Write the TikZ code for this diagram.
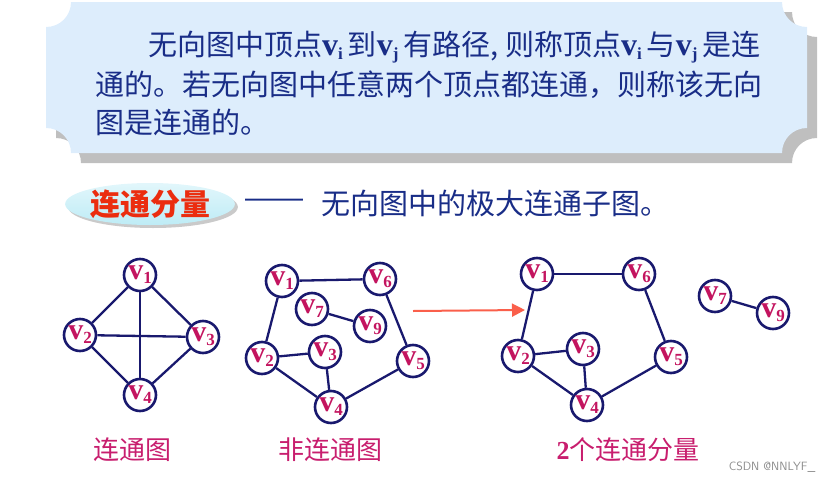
\documentclass[tikz,border=0pt]{standalone}
\usepackage{fontspec}
\newfontfamily\cjk{Noto Sans CJK SC}
\newfontfamily\vfont{Liberation Serif}
\newfontfamily\dashfont{Liberation Sans}
\usetikzlibrary{arrows.meta,shapes.geometric,shadows}

\definecolor{navy}{RGB}{25,25,110}
\definecolor{vred}{RGB}{195,20,95}
\definecolor{capred}{RGB}{200,30,110}
\definecolor{txtblue}{RGB}{25,45,135}
\definecolor{boxblue}{RGB}{221,237,252}
\definecolor{arrred}{RGB}{250,95,75}
\definecolor{tagred}{RGB}{235,45,15}
\definecolor{tagcyan}{RGB}{190,236,246}

% bold v with a subscript
\newcommand{\vsub}[1]{{\vfont\bfseries\fontsize{32}{32}\selectfont v\raisebox{-4pt}{\fontsize{17}{17}\selectfont #1}}\hspace{5pt}}
\newcommand{\vlab}[1]{v\raisebox{-4pt}{\fontsize{17}{17}\selectfont #1}}

\begin{document}
\begin{tikzpicture}[
    x=1pt, y=-1pt,
    vert/.style={%
      circle,
      draw=navy,
      line width=2.6pt,
      fill=white,
      minimum size=32pt,
      inner sep=0pt,
      text=vred,
      font=\vfont\bfseries\fontsize{30}{30}\selectfont,
    },
    edge/.style={draw=navy, line width=2.3pt},
  ]

\tikzstyle{para} = [anchor=west, inner sep=0pt, text=txtblue, font=\cjk\fontsize{29}{29}\selectfont]

\tikzstyle{tag} = [ellipse, minimum width=154pt, minimum height=42pt, inner sep=0pt, top color=tagcyan!45!white, bottom color=tagcyan, drop shadow={shadow xshift=3pt, shadow yshift=-3pt, fill=black!35, opacity=0.6}, text=tagred, font=\cjk\bfseries\fontsize{30}{30}\selectfont]

\tikzstyle{caption} = [text=capred, font=\cjk\fontsize{26}{26}\selectfont]

\tikzstyle{arrow} = [draw=arrred, line width=2pt, -{Triangle[length=13pt,width=13pt]}]

\useasboundingbox (0,0) rectangle (838,482);

% plaque with concave corners
\path[fill=boxblue, preaction={fill=black!25, transform canvas={xshift=10pt, yshift=-10pt}}]
  (71,2) -- (782,2) .. controls (782,16) and (793,27) .. (807,27)
  -- (807,128) .. controls (793,128) and (782,139) .. (782,153)
  -- (71,153) .. controls (71,139) and (60,128) .. (46,128)
  -- (46,27) .. controls (60,27) and (71,16) .. (71,2) -- cycle;

\node [para] (l1) at (148,47) {无向图中顶点\vsub{i}到\vsub{j}有路径, 则称顶点\vsub{i}与\vsub{j}是连};
\node [para] (l2) at (95,85) {通的。若无向图中任意两个顶点都连通，则称该无向};
\node [para] (l3) at (95,122) {图是连通的。};

\node [tag] (comp) at (150,204) {连通分量};
\node [para, font=\dashfont\fontsize{29}{29}\selectfont] (dash) at (245,203) {——};
\node [para] (def) at (321,203) {无向图中的极大连通子图。};

% connected graph
\node [vert] (a1) at (140,275) {\vlab{1}};
\node [vert] (a2) at (80,335) {\vlab{2}};
\node [vert] (a3) at (203,337) {\vlab{3}};
\node [vert] (a4) at (140,395) {\vlab{4}};

\draw [edge] (a1) -- (a2);
\draw [edge] (a1) -- (a3);
\draw [edge] (a1) -- (a4);
\draw [edge] (a2) -- (a3);
\draw [edge] (a2) -- (a4);
\draw [edge] (a3) -- (a4);

% disconnected graph
\node [vert] (b1) at (282,281) {\vlab{1}};
\node [vert] (b6) at (380,279) {\vlab{6}};
\node [vert] (b7) at (312,309) {\vlab{7}};
\node [vert] (b9) at (370,326) {\vlab{9}};
\node [vert] (b2) at (262,358) {\vlab{2}};
\node [vert] (b3) at (325,352) {\vlab{3}};
\node [vert] (b5) at (413,361) {\vlab{5}};
\node [vert] (b4) at (331,407) {\vlab{4}};

\draw [edge] (b1) -- (b6);
\draw [edge] (b1) -- (b2);
\draw [edge] (b6) -- (b5);
\draw [edge] (b7) -- (b9);
\draw [edge] (b2) -- (b3);
\draw [edge] (b2) -- (b4);
\draw [edge] (b3) -- (b4);
\draw [edge] (b4) -- (b5);

% its two components
\node [vert] (c1) at (537,274) {\vlab{1}};
\node [vert] (c6) at (639,274) {\vlab{6}};
\node [vert] (c7) at (715,296) {\vlab{7}};
\node [vert] (c9) at (773,313) {\vlab{9}};
\node [vert] (c2) at (518,356) {\vlab{2}};
\node [vert] (c3) at (583,349) {\vlab{3}};
\node [vert] (c5) at (671,357) {\vlab{5}};
\node [vert] (c4) at (587,405) {\vlab{4}};

\draw [edge] (c1) -- (c6);
\draw [edge] (c1) -- (c2);
\draw [edge] (c6) -- (c5);
\draw [edge] (c7) -- (c9);
\draw [edge] (c2) -- (c3);
\draw [edge] (c2) -- (c4);
\draw [edge] (c3) -- (c4);
\draw [edge] (c4) -- (c5);

\coordinate (from) at (413,311);
\coordinate (to) at (525,310);
\draw [arrow] (from) -- (to);

\node [caption] (cap1) at (132,450) {连通图};
\node [caption] (cap2) at (330,450) {非连通图};
\node [caption] (cap3) at (628,450) {{\vfont\bfseries 2}个连通分量};

\node [text=black!45, font=\sffamily\fontsize{12}{12}\selectfont] (mark) at (772,467) {CSDN @NNLYF\_};
\end{tikzpicture}
\end{document}
